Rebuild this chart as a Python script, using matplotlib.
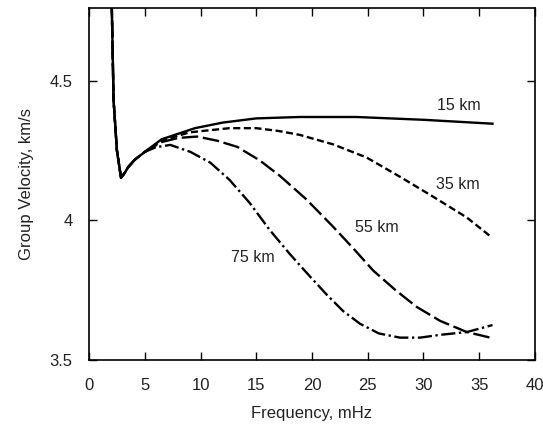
import matplotlib
matplotlib.use("Agg")
import matplotlib.pyplot as plt

plt.rcParams['font.family'] = ['Liberation Sans', 'DejaVu Sans']

# shared low-frequency part (all curves coincide)
x_common = [2.0, 2.2, 2.5, 2.87, 3.2, 3.5, 4.1, 5.0]
y_common = [4.85, 4.43, 4.25, 4.152, 4.17, 4.19, 4.217, 4.245]

x_15 = [6.5, 9.5, 12, 15, 18.9, 24, 30, 36.2]
y_15 = [4.29, 4.33, 4.35, 4.365, 4.37, 4.37, 4.36, 4.346]

x_35 = [6.5, 9, 12.6, 15, 17, 18.9, 21.9, 24.9, 27.9, 30.9, 33.9, 36.1]
y_35 = [4.285, 4.315, 4.33, 4.33, 4.32, 4.306, 4.272, 4.225, 4.156, 4.084, 4.01, 3.94]

x_55 = [6.5, 8, 9.7, 11.5, 13.3, 15.3, 17.1, 19.5, 21.9, 23.7, 25.5, 27.5, 29.4, 31.5, 33.9, 36]
y_55 = [4.28, 4.295, 4.30, 4.285, 4.263, 4.215, 4.16, 4.075, 3.977, 3.9, 3.82, 3.75, 3.69, 3.64, 3.60, 3.58]

x_75 = [6, 7.3, 9.1, 10.9, 12.6, 14.4, 16.2, 18, 19.8, 21.3, 22.8, 24.3, 26, 27.9, 29.7, 31.5, 33.9, 36.2]
y_75 = [4.262, 4.27, 4.245, 4.206, 4.145, 4.063, 3.966, 3.88, 3.80, 3.735, 3.675, 3.63, 3.595, 3.58, 3.58, 3.59, 3.60, 3.625]

labels = ["15 km", "35 km", "55 km", "75 km"]
label_pos = [(33.2, 4.41), (33.1, 4.127), (25.8, 3.973), (14.7, 3.866)]

fig = plt.figure(figsize=(5.43, 4.25), dpi=100)
ax = fig.add_axes([0.164, 0.153, 0.821, 0.828])

lw = 1.7
ax.plot(x_common + x_15, y_common + y_15, color="black", lw=lw)
ax.plot(x_common + x_35, y_common + y_35, color="black", lw=lw, dashes=(3, 1.5))
ax.plot(x_common + x_55, y_common + y_55, color="black", lw=lw, dashes=(7, 2))
ax.plot(x_common + x_75, y_common + y_75, color="black", lw=lw, dashes=(6, 1.5, 1, 1.5))

for txt, (tx, ty) in zip(labels, label_pos):
    ax.text(tx, ty, txt, fontsize=11.5, ha="center", va="center", color="#222222")

ax.set_xlim(0, 40)
ax.set_ylim(3.5, 4.76)
ax.set_xticks(range(0, 41, 5))
ax.set_yticks([3.5, 4, 4.5])
ax.set_yticklabels(["3.5", "4", "4.5"])
ax.tick_params(direction="in", top=True, right=True, length=6, width=1, labelsize=12,
               labelcolor="#222222")
ax.tick_params(axis="x", pad=13)
ax.tick_params(axis="y", pad=12)
for s in ax.spines.values():
    s.set_linewidth(1.2)

ax.set_xlabel("Frequency, mHz", fontsize=12, labelpad=9, color="#222222")
ax.set_ylabel("Group Velocity, km/s", fontsize=12, labelpad=11, color="#222222")

fig.savefig("out.png", dpi=100)
